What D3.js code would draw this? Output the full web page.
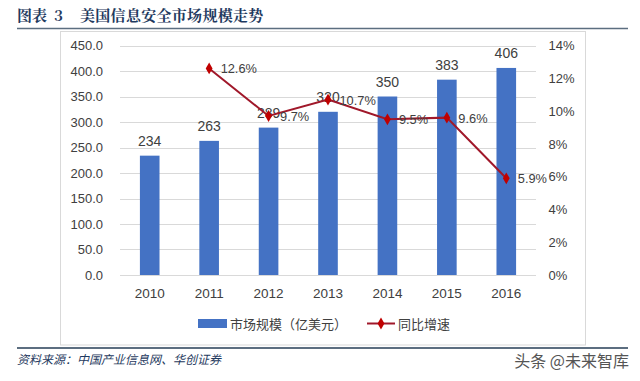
<!DOCTYPE html>
<html><head><meta charset="utf-8">
<script src="https://cdn.jsdelivr.net/npm/d3@7"></script>
<style>body{margin:0;background:#fff}svg{display:block}</style>
</head><body>
<script>
const years = ["2010","2011","2012","2013","2014","2015","2016"];
const marketSize = [234, 263, 289, 320, 350, 383, 406];
const growth = [null, 12.6, 9.7, 10.7, 9.5, 9.6, 5.9];
const leftTicks = [0,50,100,150,200,250,300,350,400,450];
const rightTicks = [0,2,4,6,8,10,12,14];
const titleParts = ["图表", "3", "美国信息安全市场规模走势"];
const legendLabels = ["市场规模（亿美元）", "同比增速"];
const source = "资料来源：中国产业信息网、华创证券";

const W = 640, H = 381;
const svg = d3.select("body").append("svg").attr("width", W).attr("height", H);
const font = "'Liberation Sans','Noto Sans CJK SC',Arial,sans-serif";
const serif = "'Noto Sans CJK SC',serif";

// title
const titleX = [17, 54, 80];
titleParts.forEach((t, i) => {
  svg.append("text").attr("x", titleX[i]).attr("y", 21).text(t)
    .attr("font-family", "'Noto Serif CJK SC','Noto Sans CJK SC',serif").attr("font-weight", "bold")
    .attr("font-size", 15).attr("letter-spacing", i === 2 ? 0.3 : 0).attr("fill", "#1f3a60");
});
svg.append("line").attr("x1", 17).attr("x2", 628).attr("y1", 28.5).attr("y2", 28.5)
  .attr("stroke", "#5c6e80").attr("stroke-width", 1.5);
// frame
svg.append("rect").attr("x", 60.5).attr("y", 31.5).attr("width", 525).attr("height", 313.5)
  .attr("fill", "none").attr("stroke", "#d9d9d9").attr("stroke-width", 1);
svg.append("line").attr("x1", 17).attr("x2", 628).attr("y1", 348).attr("y2", 348)
  .attr("stroke", "#5c6e80").attr("stroke-width", 2);
svg.append("text").attr("x", 17).attr("y", 364).text(source)
  .attr("font-family", serif).attr("font-style", "italic")
  .attr("font-size", 12).attr("fill", "#1f3a60");
svg.append("text").attr("x", 629).attr("y", 367).attr("text-anchor", "end").text("头条 @未来智库")
  .attr("font-family", "'Noto Sans CJK SC',sans-serif").attr("font-size", 16).attr("fill", "#555");

const plotL = 120, plotR = 536, plotT = 45.5, plotB = 275;
const x = d3.scaleBand().domain(years).range([plotL, plotR]).paddingInner(0.67).paddingOuter(0.335);
const yL = d3.scaleLinear().domain([0, 450]).range([plotB, plotT]);
const yR = d3.scaleLinear().domain([0, 14]).range([plotB, plotT]);

// gridlines
svg.append("g").selectAll("line").data(leftTicks).join("line")
  .attr("x1", plotL).attr("x2", plotR)
  .attr("y1", d => Math.round(yL(d)) + 0.5).attr("y2", d => Math.round(yL(d)) + 0.5)
  .attr("stroke", "#d9d9d9").attr("stroke-width", 1);

// axes
const axL = svg.append("g").attr("transform", `translate(${plotL - 17},0)`)
  .call(d3.axisLeft(yL).tickValues(leftTicks).tickFormat(d => d.toFixed(1)).tickSize(0).tickPadding(0));
const axR = svg.append("g").attr("transform", `translate(${plotR + 12.5},0)`)
  .call(d3.axisRight(yR).tickValues(rightTicks).tickFormat(d => d + "%").tickSize(0).tickPadding(0));
const axB = svg.append("g").attr("transform", `translate(0,${plotB})`)
  .call(d3.axisBottom(x).tickSize(0).tickPadding(13));
[axL, axR, axB].forEach(a => {
  a.select(".domain").remove();
  a.selectAll("text").attr("font-family", font).attr("font-size", 13).attr("fill", "#404040");
});
axB.selectAll("text").attr("font-size", 13.5);

// bars
svg.append("g").selectAll("rect").data(years).join("rect")
  .attr("x", d => x(d)).attr("width", x.bandwidth())
  .attr("y", (d, i) => yL(marketSize[i])).attr("height", (d, i) => plotB - yL(marketSize[i]))
  .attr("fill", "#4472c4");
svg.append("g").selectAll("text").data(years).join("text")
  .attr("x", d => x(d) + x.bandwidth() / 2).attr("y", (d, i) => yL(marketSize[i]) - 10)
  .attr("text-anchor", "middle").text((d, i) => marketSize[i])
  .attr("font-family", font).attr("font-size", 14).attr("fill", "#404040");

// line
const pts = years.map((d, i) => ({ y: d, v: growth[i] })).filter(p => p.v != null);
const cx = d => x(d) + x.bandwidth() / 2;
svg.append("path").datum(pts)
  .attr("d", d3.line().x(p => cx(p.y)).y(p => yR(p.v)))
  .attr("fill", "none").attr("stroke", "#a0182a").attr("stroke-width", 2);
svg.append("g").selectAll("path").data(pts).join("path")
  .attr("transform", p => `translate(${cx(p.y)},${yR(p.v)})`)
  .attr("d", d3.symbol(d3.symbolDiamond, 40)).attr("fill", "#c00000");
svg.append("g").selectAll("text").data(pts).join("text")
  .attr("x", p => cx(p.y) + 11.5).attr("y", p => yR(p.v) + 5).text(p => p.v.toFixed(1) + "%")
  .attr("font-family", font).attr("font-size", 12.8).attr("fill", "#404040");

// legend
const lg = svg.append("g");
lg.append("rect").attr("x", 198).attr("y", 319).attr("width", 29).attr("height", 9).attr("fill", "#4472c4");
lg.append("text").attr("x", 230).attr("y", 328.5).text(legendLabels[0])
  .attr("font-family", font).attr("font-size", 13).attr("fill", "#404040");
lg.append("line").attr("x1", 367).attr("x2", 395).attr("y1", 323.5).attr("y2", 323.5)
  .attr("stroke", "#a0182a").attr("stroke-width", 2);
lg.append("path").attr("transform", "translate(381,323.5)")
  .attr("d", d3.symbol(d3.symbolDiamond, 40)).attr("fill", "#c00000");
lg.append("text").attr("x", 398).attr("y", 328.5).text(legendLabels[1])
  .attr("font-family", font).attr("font-size", 13).attr("fill", "#404040");
</script>
</body></html>
